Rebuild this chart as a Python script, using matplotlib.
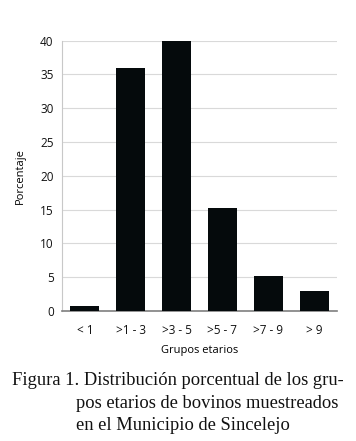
import matplotlib
matplotlib.use("Agg")
import matplotlib.pyplot as plt

categories = ["< 1", ">1 - 3", ">3 - 5", ">5 - 7", ">7 - 9", "> 9"]
values = [0.7, 36.0, 40.0, 15.3, 5.2, 3.0]
yticks = [0, 5, 10, 15, 20, 25, 30, 35, 40]

W, H = 356, 441
fig = plt.figure(figsize=(W / 100, H / 100), dpi=100)
ax = fig.add_axes([62 / W, 1 - 311 / H, 275 / W, 270.5 / H])

x = range(len(categories))
ax.bar(x, values, width=0.63, color="#050a0c", zorder=3)
ax.set_xlim(-0.5, len(categories) - 0.5)
ax.set_ylim(0, 40)
ax.set_yticks(yticks)
ax.set_xticks(list(x))
ax.set_xticklabels(categories)
ax.grid(axis="y", color="#d9d9d9", linewidth=0.8, zorder=0)
ax.tick_params(axis="both", length=0, labelsize=8.5, colors="#111111", pad=6)
for lbl in ax.get_xticklabels() + ax.get_yticklabels():
    lbl.set_family("Open Sans")
ax.tick_params(axis="x", pad=9)
for s in ["top", "right"]:
    ax.spines[s].set_visible(False)
ax.spines["left"].set_color("#c8c8c8")
ax.spines["left"].set_linewidth(0.8)
ax.spines["bottom"].set_color("#7f7f7f")
ax.spines["bottom"].set_linewidth(1.2)
ax.set_ylabel("Porcentaje", family="Open Sans", fontsize=8, labelpad=10)
ax.set_xlabel("Grupos etarios", family="Open Sans", fontsize=8, labelpad=6)

cap = dict(family="Liberation Serif", fontsize=13.3, color="#111111", va="baseline")
fig.text(12 / W, 1 - 385 / H, "Figura 1. Distribución porcentual de los gru-", **cap)
fig.text(76 / W, 1 - 408 / H, "pos etarios de bovinos muestreados", **cap)
fig.text(76 / W, 1 - 430 / H, "en el Municipio de Sincelejo", **cap)

fig.savefig("out.png", dpi=100)
